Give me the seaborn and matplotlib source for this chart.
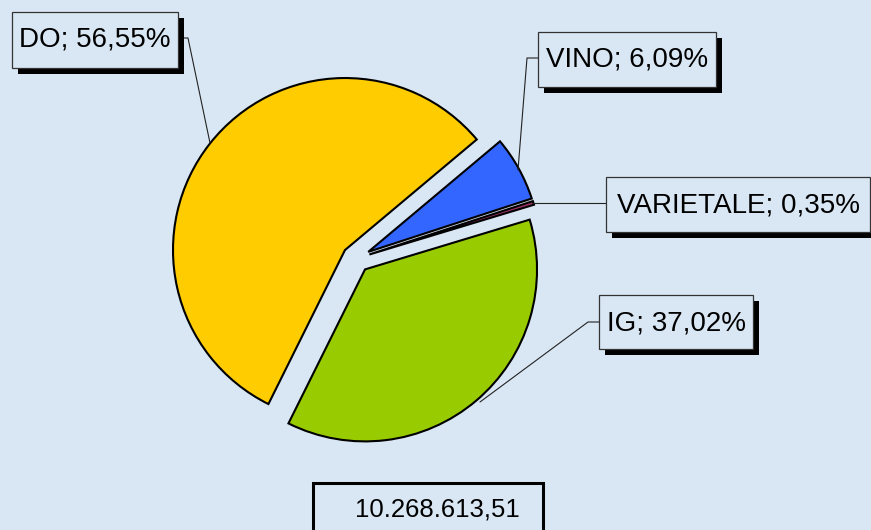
import matplotlib
matplotlib.use("Agg")
import matplotlib.pyplot as plt
from matplotlib.patches import Rectangle
import seaborn as sns

# data
categories = ["VINO", "VARIETALE", "IG", "DO"]
shares = [6.09, 0.35, 37.02, 56.55]
share_labels = ["6,09%", "0,35%", "37,02%", "56,55%"]
total_value = "10.268.613,51"

colors = ["#3366FF", "#993366", "#99CC00", "#FFCC00"]
bg = "#D9E7F4"

W, H_PX = 871, 530

# label boxes in image pixels (x0, y0, x1, y1), same order as categories
boxes = [(538, 32, 716, 87), (606, 177, 870, 232), (599, 295, 753, 349), (12, 12, 178, 68)]
# leader lines in image pixels
leaders = [
    [(538, 58), (527, 58), (518, 170)],
    [(606, 203), (533, 203)],
    [(599, 322), (588, 322), (480, 402)],
    [(178, 38), (188, 38), (210, 143)],
]


def fy(y):
    # image y (down) -> data y (up)
    return H_PX - y


def label_box(ax, x0, y0, x1, y1, text):
    shadow = Rectangle((x0 + 6, fy(y1 + 6)), x1 - x0, y1 - y0,
                       facecolor="black", edgecolor="none", zorder=3)
    box = Rectangle((x0, fy(y1)), x1 - x0, y1 - y0,
                    facecolor=bg, edgecolor="#333333", lw=0.9, zorder=4)
    ax.add_patch(shadow)
    ax.add_patch(box)
    ax.text((x0 + x1) / 2, fy(y0 + 35), text, ha="center", va="baseline",
            fontsize=20, color="black", zorder=5)


sns.set_theme(style="white")
plt.rcParams["font.family"] = ["Liberation Sans", "DejaVu Sans"]

fig = plt.figure(figsize=(W / 100, H_PX / 100), dpi=100)
fig.patch.set_facecolor(bg)
ax = fig.add_axes([0, 0, 1, 1])

ax.pie(shares, colors=colors, startangle=40, counterclock=False,
       explode=[14] * len(shares), radius=172, center=(356, fy(258.7)),
       wedgeprops=dict(edgecolor="black", linewidth=1.5), normalize=True)

for pts in leaders:
    ax.plot([p[0] for p in pts], [fy(p[1]) for p in pts],
            color="#222222", lw=0.8, zorder=2)

for cat, pct, (x0, y0, x1, y1) in zip(categories, share_labels, boxes):
    label_box(ax, x0, y0, x1, y1, f"{cat}; {pct}")

# total box at the bottom
ax.add_patch(Rectangle((313, fy(548)), 230, 65, facecolor=bg,
                       edgecolor="black", lw=2.2, zorder=4))
ax.text(437, fy(516), total_value, ha="center", va="baseline",
        fontsize=18.5, color="black", zorder=5)

ax.set_xlim(0, W)
ax.set_ylim(0, H_PX)
ax.set_aspect("auto")
ax.axis("off")

fig.savefig("out.png", dpi=100, facecolor=bg)
